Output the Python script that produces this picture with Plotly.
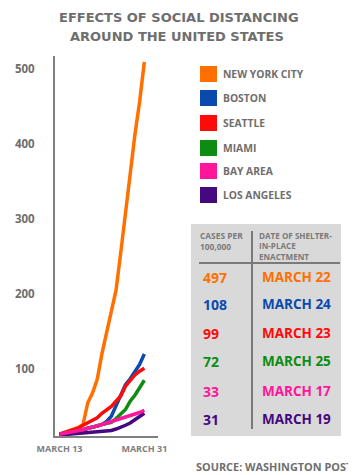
import plotly.graph_objects as go

days = list(range(13, 32))
cities = ["NEW YORK CITY", "BOSTON", "SEATTLE", "MIAMI", "BAY AREA", "LOS ANGELES"]
colors = ["#ff7000", "#0a4aae", "#ff0a0a", "#0c8c12", "#ff169a", "#46087e"]
nyc = [13, 15, 17, 19, 22, 26, 55, 68, 86, 120, 150, 175, 205, 255, 309, 365, 412, 456, 509]
boston = [13, 14, 15, 16, 17.5, 19, 21, 22, 24, 26, 30, 37, 52, 66, 79, 87, 96, 106, 120]
seattle = [13, 15, 17, 19, 21, 25, 28, 31, 35, 41, 45, 50, 57, 64, 77, 85, 92, 97, 101]
miami = [13, 14, 15, 16, 17.5, 19, 21, 22, 24, 26, 28, 29, 34, 40, 46, 57, 65, 75, 85]
bay_area = [13, 14, 15, 16, 17.5, 19, 21, 22, 24, 26, 28, 29, 31, 33, 35.5, 37, 40, 42, 45]
los_angeles = [12, 12.5, 13, 13.5, 14, 14.5, 15, 15.5, 16, 16.5, 17, 18, 20, 22, 25, 28, 32, 36, 41]
series = [nyc, boston, seattle, miami, bay_area, los_angeles]
cases = ["497", "108", "99", "72", "33", "31"]
dates = ["MARCH 22", "MARCH 24", "MARCH 23", "MARCH 25", "MARCH 17", "MARCH 19"]
y_ticks = [100, 200, 300, 400, 500]
x_ticks = [13, 31]
x_labels = ["MARCH 13", "MARCH 31"]
title_lines = ["EFFECTS OF SOCIAL DISTANCING", "AROUND THE UNITED STATES"]
header_left = ["CASES PER", "100,000"]
header_right = ["DATE OF SHELTER-", "IN-PLACE", "ENACTMENT"]
source = "SOURCE: WASHINGTON POST"

FONT = "Open Sans"
TFONT = "DejaVu Sans"
GRAY = "#6e6e6e"

OFF = 8  # page body margin
W, H = 356 - OFF, 475 - OFF
L, R, T, B = 55, 158, 56, 436  # plot area in reference pixels


def px(x):
    return (x - L) / (R - L)


def py(y):
    return (B - y) / (B - T)


fig = go.Figure()
draw_order = [0, 1, 2, 3, 5, 4]
for i in draw_order:
    fig.add_trace(go.Scatter(x=days, y=series[i], mode="lines",
                             line=dict(color=colors[i], width=3.5),
                             name=cities[i], showlegend=False, hoverinfo="skip"))

fig.update_layout(
    width=W, height=H,
    margin=dict(l=L - OFF, r=W - (R - OFF), t=T - OFF, b=H - (B - OFF), pad=0,
                autoexpand=False),
    paper_bgcolor="white", plot_bgcolor="white",
    xaxis=dict(range=[12.05, 33.9], showgrid=False, zeroline=False, automargin=False,
               showline=True, linecolor="#808080", linewidth=2,
               tickvals=x_ticks, ticktext=x_labels, ticks="", ticklabelstandoff=3,
               tickfont=dict(family=FONT, size=9, color="#808080", weight="bold")),
    yaxis=dict(range=[10.7, 517], showgrid=False, zeroline=False, automargin=False,
               showline=True, linecolor="#808080", linewidth=2,
               tickvals=y_ticks, ticks="", ticklabelstandoff=16,
               tickfont=dict(family=FONT, size=11.5, color=GRAY, weight="bold")),
)

ann = []
shapes = []


def text(t, x, y, size, color, xanchor="left", yanchor="middle", family=FONT):
    ann.append(dict(text=t, x=px(x), y=py(y), xref="paper", yref="paper",
                    xanchor=xanchor, yanchor=yanchor, align="left", showarrow=False,
                    borderpad=0,
                    font=dict(family=family, size=size, color=color, weight="bold")))


# title
text(title_lines[0], 178.5, 17, 13, GRAY, xanchor="center", family=TFONT)
text(title_lines[1], 176.5, 37, 13, GRAY, xanchor="center", family=TFONT)

# legend
leg_y = [74, 98, 123, 148, 171, 195]
for i, c in enumerate(cities):
    yc = leg_y[i]
    shapes.append(dict(type="rect", xref="paper", yref="paper",
                       x0=px(200), x1=px(217), y0=py(yc + 8), y1=py(yc - 8),
                       fillcolor=colors[i], line=dict(width=0)))
    text(c, 222, yc, 10.3, GRAY)

# table
shapes.append(dict(type="rect", xref="paper", yref="paper", layer="below",
                   x0=px(191), x1=px(341), y0=py(436), y1=py(224),
                   fillcolor="#d9d9d9", line=dict(width=0)))
shapes.append(dict(type="line", xref="paper", yref="paper",
                   x0=px(252), x1=px(252), y0=py(429), y1=py(231),
                   line=dict(color="#7a7a7a", width=2)))
shapes.append(dict(type="line", xref="paper", yref="paper",
                   x0=px(199), x1=px(340), y0=py(263), y1=py(263),
                   line=dict(color="#7a7a7a", width=2)))
for k, t in enumerate(header_left):
    text(t, 199, 235 + 11 * k, 8.4, "#7a7a7a")
for k, t in enumerate(header_right):
    text(t, 258, 235 + 10.5 * k, 8.1, "#7a7a7a")

row_y = [277, 304, 333, 361, 391, 419]
for i in range(6):
    text(cases[i], 202, row_y[i], 14, colors[i])
    text(dates[i], 261, row_y[i], 13.5, colors[i])

text(source, 354, 467, 10.9, GRAY, xanchor="right")

fig.update_layout(annotations=ann, shapes=shapes)
fig.write_html("out.html")
